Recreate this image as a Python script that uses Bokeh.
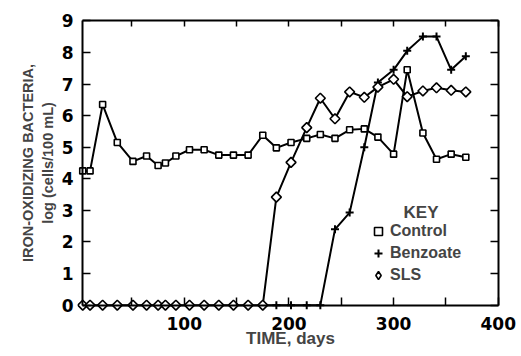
import math
from bokeh.plotting import figure
from bokeh.models import (Range1d, LinearAxis, FixedTicker, Legend, LegendItem, Label)
from bokeh.embed import file_html
from bokeh.resources import INLINE

# ---- data ----
control_days = [3, 10, 22, 36, 51, 64, 75, 82, 92, 105, 119, 133, 147, 161, 175,
                188, 202, 217, 230, 244, 258, 272, 285, 300, 313, 328, 341, 355, 369]
control_log = [4.25, 4.25, 6.35, 5.15, 4.55, 4.72, 4.42, 4.5, 4.72, 4.92, 4.92, 4.75,
               4.75, 4.75, 5.38, 4.98, 5.15, 5.28, 5.4, 5.28, 5.55, 5.58, 5.32, 4.78,
               7.45, 5.45, 4.62, 4.78, 4.68]

benzoate_days = [175, 188, 202, 217, 230, 244, 258, 272, 285, 300, 313, 328, 341, 355, 369]
benzoate_log = [0, 0, 0, 0, 0, 2.4, 2.93, 5.0, 7.05, 7.45, 8.05, 8.5, 8.5, 7.45, 7.88]

sls_days = [3, 10, 22, 36, 51, 64, 75, 82, 92, 105, 119, 133, 147, 161, 175,
            188, 202, 217, 230, 244, 258, 272, 285, 300, 313, 328, 341, 355, 369]
sls_log = [0, 0, 0, 0, 0, 0, 0, 0, 0, 0, 0, 0, 0, 0, 0,
           3.42, 4.52, 5.62, 6.55, 5.9, 6.75, 6.58, 6.9, 7.15, 6.6, 6.78, 6.88, 6.8, 6.75]

x_ticks = [100, 200, 300, 400]
x_all = [50, 100, 150, 200, 250, 300, 350, 400]
y_ticks = [0, 1, 2, 3, 4, 5, 6, 7, 8, 9]

X0, X1 = 3, 400
Y0, Y1 = 0, 9

TICK_FONT = "DejaVu Sans"
TEXT_FONT = "Liberation Sans"

p = figure(width=521, height=356, output_backend="svg", toolbar_location=None,
           x_range=Range1d(-2, 405), y_range=Range1d(-0.2, 9.2),
           min_border_left=77, min_border_right=18, min_border_top=14,
           min_border_bottom=45)
p.grid.visible = False
p.outline_line_color = None
p.background_fill_color = "white"
p.border_fill_color = "white"

def labels_only(ax):
    ax.axis_line_color = None
    ax.major_tick_line_color = None
    ax.minor_tick_line_color = None
    ax.major_tick_in = 0
    ax.major_tick_out = 0
    ax.minor_tick_in = 0
    ax.minor_tick_out = 0
    ax.major_label_text_font = TICK_FONT
    ax.major_label_text_font_style = "bold"
    ax.major_label_text_font_size = "17px"
    ax.major_label_text_color = "black"

def ticks_only(ax, tick_len):
    ax.axis_line_color = "black"
    ax.axis_line_width = 2
    ax.major_tick_line_color = None
    ax.major_tick_in = 0
    ax.major_tick_out = 0
    ax.minor_tick_line_color = "black"
    ax.minor_tick_line_width = 1.5
    ax.minor_tick_in = tick_len
    ax.minor_tick_out = 0

# label axes at the frame edges
xa = p.xaxis[0]
xa.ticker = FixedTicker(ticks=x_ticks)
labels_only(xa)
xa.major_label_standoff = 5
xa.axis_label = "TIME, days"
xa.axis_label_text_font = TEXT_FONT
xa.axis_label_text_font_style = "bold"
xa.axis_label_text_font_size = "17px"
xa.axis_label_standoff = -4

ya = p.yaxis[0]
ya.ticker = FixedTicker(ticks=y_ticks)
labels_only(ya)
ya.major_label_standoff = 4
ya.axis_label = "IRON-OXIDIZING BACTERIA,\nlog (cells/100 mL)"
ya.axis_label_text_font = TEXT_FONT
ya.axis_label_text_font_style = "bold"
ya.axis_label_text_font_size = "14.5px"
ya.axis_label_standoff = 3

# box lines with inward ticks, placed at the data limits
bottom = LinearAxis(ticker=FixedTicker(ticks=[], minor_ticks=x_all),
                    fixed_location=Y0, bounds=(X0, X1))
ticks_only(bottom, 8)
p.add_layout(bottom, "below")

left = LinearAxis(ticker=FixedTicker(ticks=[], minor_ticks=y_ticks),
                  fixed_location=X0, bounds=(Y0, Y1))
ticks_only(left, 8)
p.add_layout(left, "left")

top = LinearAxis(ticker=FixedTicker(ticks=[], minor_ticks=x_all),
                 fixed_location=Y1, bounds=(X0, X1))
ticks_only(top, 6)
p.add_layout(top, "above")

right = LinearAxis(ticker=FixedTicker(ticks=[], minor_ticks=y_ticks),
                   fixed_location=X1, bounds=(Y0, Y1))
ticks_only(right, 8)
p.add_layout(right, "right")

# series
p.line(benzoate_days, benzoate_log, line_color="black", line_width=2)
r_benz = p.scatter(benzoate_days, benzoate_log, marker="cross", size=8,
                   line_color="black", line_width=2)
p.line(control_days, control_log, line_color="black", line_width=2)
r_ctrl = p.scatter(control_days, control_log, marker="square", size=6,
                   line_color="black", line_width=1.6, fill_color="white")
p.line(sls_days, sls_log, line_color="black", line_width=2)
p.scatter(sls_days, sls_log, marker="square", size=7, angle=math.pi / 4,
          line_color="black", line_width=1.6, fill_color="white")
# legend-only diamond renderer (hidden in the plot)
r_sls_key = p.scatter(sls_days, sls_log, marker="diamond", size=10,
                      line_color="black", line_width=1.6, fill_color="white",
                      visible=False)

legend = Legend(items=[LegendItem(label="Control", renderers=[r_ctrl]),
                       LegendItem(label="Benzoate", renderers=[r_benz]),
                       LegendItem(label="SLS", renderers=[r_sls_key])],
                location=(291, 25), glyph_width=20, glyph_height=22,
                label_height=22, spacing=0, padding=0, margin=0,
                label_standoff=2, label_text_font=TEXT_FONT,
                label_text_font_style="bold", label_text_font_size="16px",
                border_line_alpha=0, background_fill_alpha=0,
                inactive_fill_alpha=0)
p.add_layout(legend)

p.add_layout(Label(x=326.2, y=2.93, text="KEY", text_align="center",
                   text_baseline="middle", text_font=TEXT_FONT,
                   text_font_style="bold", text_font_size="17px"))

open("out.html", "w").write(file_html(p, INLINE))
